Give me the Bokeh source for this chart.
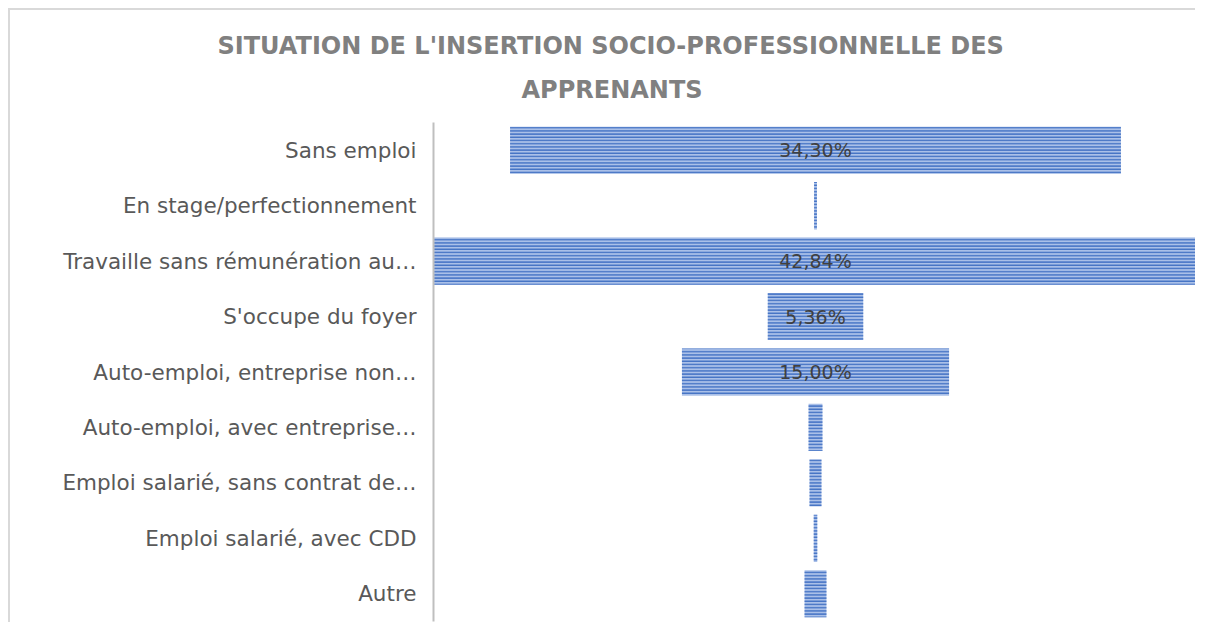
from bokeh.plotting import figure
from bokeh.models import FactorRange, Range1d, Title, ColumnDataSource, Spacer
from bokeh.layouts import column, row
from bokeh.core.properties import value
from bokeh.embed import file_html
from bokeh.resources import INLINE

categories = [
    "Sans emploi",
    "En stage/perfectionnement",
    "Travaille sans rémunération au…",
    "S'occupe du foyer",
    "Auto-emploi, entreprise non…",
    "Auto-emploi, avec entreprise…",
    "Emploi salarié, sans contrat de…",
    "Emploi salarié, avec CDD",
    "Autre",
]
values = [34.30, 0.16, 42.84, 5.36, 15.00, 0.78, 0.67, 0.20, 1.23]
title_line1 = "SITUATION DE L'INSERTION SOCIO-PROFESSIONNELLE  DES"
title_line2 = "APPRENANTS"

half = [v / 2 for v in values]
src = ColumnDataSource(dict(
    cat=categories,
    left=[-h for h in half],
    right=half,
))
lab_cats = [c for c, v in zip(categories, values) if v >= 5]
lab_txt = [f"{v:.2f}%".replace(".", ",") for v in values if v >= 5]
lab_src = ColumnDataSource(dict(cat=lab_cats, x=[0] * len(lab_cats), txt=lab_txt))

vmax = max(values) / 2
fig = figure(
    width=1187, height=614,
    y_range=FactorRange(factors=categories[::-1], range_padding=0),
    x_range=Range1d(-vmax - 0.03, vmax + 0.03),
    output_backend="svg", toolbar_location=None,
    min_border_left=423, min_border_right=0,
    min_border_top=112, min_border_bottom=3,
)
fig.styles = {"border-left": "2px solid #d9d9d9", "border-top": "2px solid #d9d9d9"}

fig.hbar(y="cat", left="left", right="right", height=0.85, source=src,
         fill_color="#aac0e8", line_color=None,
         hatch_pattern="horizontal_line", hatch_color="#4472C4",
         hatch_scale=3.2, hatch_weight=1.6)

fig.text(x="x", y="cat", text="txt", source=lab_src,
         text_align="center", text_baseline="middle",
         text_font=value("DejaVu Sans"), text_font_size="19px",
         text_color="#404040")

t2 = Title(text=title_line2, align="left", offset=88, vertical_align="top",
           standoff=33, text_font="DejaVu Sans", text_font_size="24px",
           text_font_style="bold", text_color="#808080")
t1 = Title(text=title_line1, align="left", offset=-216, vertical_align="bottom",
           standoff=0, text_font="DejaVu Sans", text_font_size="24px",
           text_font_style="bold", text_color="#808080")
fig.add_layout(t2, "above")
fig.add_layout(t1, "above")

fig.xaxis.visible = False
fig.xgrid.visible = False
fig.ygrid.visible = False
fig.outline_line_color = None
yax = fig.yaxis[0]
yax.axis_line_color = "#bfbfbf"
yax.axis_line_width = 2
yax.major_tick_line_color = None
yax.minor_tick_line_color = None
yax.major_label_text_color = "#595959"
yax.major_label_text_font = "DejaVu Sans"
yax.major_label_text_font_size = "21.5px"
yax.major_label_standoff = 11

p = column(Spacer(height=8, width=1197), row(Spacer(width=8, height=614), fig))

open("out.html", "w").write(file_html(p, INLINE))
